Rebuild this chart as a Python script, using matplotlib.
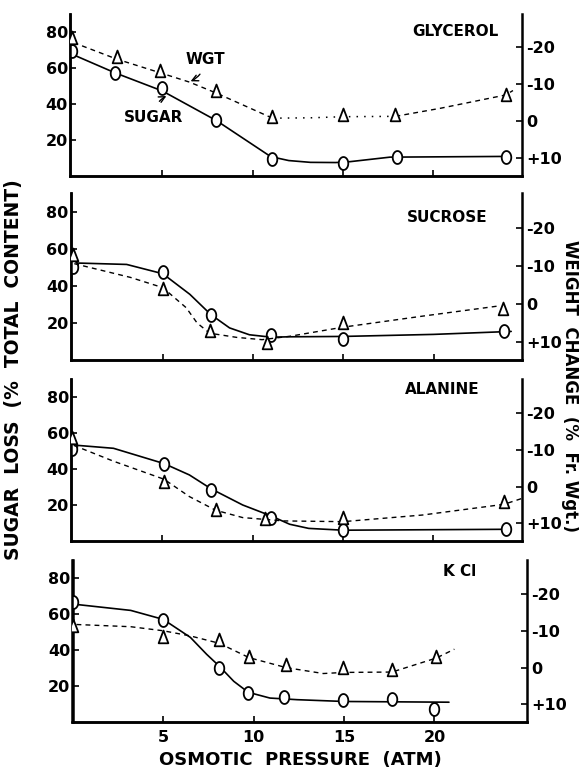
import matplotlib
matplotlib.use("Agg")
import matplotlib.pyplot as plt
from matplotlib.path import Path
import numpy as np

plt.rcParams['font.family'] = ['DejaVu Sans']
plt.rcParams['font.weight'] = 'bold'

W, H, DPI = 579, 771, 100

# ---------------- data ----------------
titles = ["GLYCEROL", "SUCROSE", "ALANINE", "K Cl"]

# GLYCEROL
gly_sugar_x = [0, 2.4, 5.0, 8.0, 11.1, 15.0, 18.0, 24.0]
gly_sugar_y = [69.3, 56.8, 48.4, 30.8, 9.2, 6.8, 10.4, 10.4]
gly_wgt_x = [0, 2.5, 4.9, 8.0, 11.1, 15.0, 17.9, 24.0]
gly_wgt_y = [-22.5, -17.5, -13.7, -8.3, -1.2, -1.7, -1.7, -7.1]
gly_sugar_cx = [0.1, 2.4, 5.0, 8.0, 11.0, 12.0, 13.2, 14.6, 15.4, 17.6, 24.0]
gly_sugar_cy = [67.0, 57.0, 47.0, 30.5, 10.5, 8.3, 7.3, 7.2, 7.7, 10.2, 10.6]
gly_wgt_cx = [0.1, 2.5, 4.9, 6.5, 8.0, 11.1, 13.2, 15.0, 17.9, 20.4, 24.0, 24.4]
gly_wgt_cy = [-21.3, -16.8, -13.1, -10.6, -7.6, -0.8, -0.9, -1.2, -1.3, -3.5, -7.1, -8.3]

# SUCROSE
suc_sugar_x = [0, 5.0, 7.66, 11.0, 15.0, 23.9]
suc_sugar_y = [50.0, 47.2, 24.5, 13.3, 11.4, 15.4]
suc_wgt_x = [0, 5.0, 7.6, 10.8, 15.0, 23.85]
suc_wgt_y = [-12.8, -3.9, 7.2, 10.3, 5.0, 1.2]
suc_sugar_cx = [0.1, 3.0, 5.0, 6.5, 7.66, 8.7, 9.8, 11.0, 12.0, 15.0, 20.0, 24.3]
suc_sugar_cy = [52.3, 51.5, 46.5, 35.4, 24.5, 17.3, 13.6, 12.3, 12.5, 12.7, 13.8, 15.4]
suc_wgt_cx = [0.1, 3.2, 5.0, 6.3, 6.9, 7.6, 9.1, 10.5, 12.05, 15.0, 19.4, 23.5]
suc_wgt_cy = [-10.6, -7.0, -4.3, 1.0, 5.0, 7.7, 8.8, 9.4, 8.5, 6.1, 3.2, 0.6]

# ALANINE
ala_sugar_x = [0, 5.1, 7.7, 11.0, 15.0, 24.0]
ala_sugar_y = [51.1, 42.6, 28.3, 13.0, 6.1, 6.5]
ala_wgt_x = [0, 5.1, 7.95, 10.7, 15.0, 23.9]
ala_wgt_y = [-13.1, -1.2, 6.4, 8.8, 8.6, 4.3]
ala_sugar_cx = [0.1, 2.3, 5.1, 6.5, 7.7, 9.45, 11.0, 12.05, 13.1, 15.0, 24.0]
ala_sugar_cy = [53.3, 51.5, 43.0, 36.7, 29.0, 20.0, 14.0, 9.3, 7.0, 6.0, 6.5]
ala_wgt_cx = [0.1, 2.3, 5.1, 6.5, 7.95, 9.45, 11.7, 15.0, 19.4, 23.9, 24.9]
ala_wgt_cy = [-11.2, -6.9, -2.0, 2.7, 6.4, 8.4, 9.3, 9.5, 7.7, 4.8, 3.2]

# KCl
kcl_sugar_x = [0, 5.0, 8.1, 9.7, 11.7, 14.95, 17.65, 20.0]
kcl_sugar_y = [66.7, 56.4, 30.2, 16.1, 13.9, 12.4, 12.9, 7.3]
kcl_wgt_x = [0, 5.0, 8.1, 9.75, 11.8, 14.95, 17.65, 20.1]
kcl_wgt_y = [-11.4, -8.4, -7.5, -2.9, -0.7, 0.0, 0.7, -2.9]
kcl_sugar_cx = [0.2, 3.2, 5.0, 6.5, 7.4, 8.1, 8.9, 9.7, 10.9, 12.4, 15.0, 20.8]
kcl_sugar_cy = [65.3, 62.0, 57.0, 47.0, 37.6, 31.0, 22.6, 16.5, 13.3, 12.4, 11.4, 11.0]
kcl_wgt_cx = [0.2, 3.2, 5.0, 6.5, 8.1, 9.75, 11.8, 13.85, 15.0, 17.65, 20.1, 21.1]
kcl_wgt_cy = [-11.7, -11.1, -10.0, -8.6, -6.6, -2.7, 0.0, 1.6, 1.3, 1.2, -2.6, -5.0]

left_ticks = [20, 40, 60, 80]
right_ticks = [-20, -10, 0, 10]
right_tick_labels = ["-20", "-10", "0", "+10"]
x_ticks = [5, 10, 15, 20]
x_tick_labels = ["5", "10", "15", "20"]

panels = [
    (gly_sugar_x, gly_sugar_y, gly_wgt_x, gly_wgt_y, gly_sugar_cx, gly_sugar_cy, gly_wgt_cx, gly_wgt_cy),
    (suc_sugar_x, suc_sugar_y, suc_wgt_x, suc_wgt_y, suc_sugar_cx, suc_sugar_cy, suc_wgt_cx, suc_wgt_cy),
    (ala_sugar_x, ala_sugar_y, ala_wgt_x, ala_wgt_y, ala_sugar_cx, ala_sugar_cy, ala_wgt_cx, ala_wgt_cy),
    (kcl_sugar_x, kcl_sugar_y, kcl_wgt_x, kcl_wgt_y, kcl_sugar_cx, kcl_sugar_cy, kcl_wgt_cx, kcl_wgt_cy),
]

# ---------------- layout (pixels) ----------------
# (left px, right px, bottom px, top px, xmin, xmax)
layout = [
    (70.0, 522.0, 175.5, 13.5, -0.1, 24.9),
    (70.7, 522.0, 360.0, 193.0, -0.1, 24.9),
    (71.0, 522.0, 541.0, 379.0, -0.05, 24.9),
    (72.5, 526.7, 722.0, 560.0, -0.02, 25.1),
]
title_pos = [(455, 32), (447, 218), (442, 390), (460, 572)]
DASH = (0, (3.5, 3))
DOT = (0, (1, 4))

# custom markers: tall ellipse and tall triangle
t = np.linspace(0, 2 * np.pi, 60)
ell = Path(np.column_stack([0.74 * np.cos(t), np.sin(t)]), closed=True)
tri = Path([(0, 0.6), (-0.42, -0.5), (0.42, -0.5), (0, 0.6)], closed=True)

fig = plt.figure(figsize=(W / DPI, H / DPI), dpi=DPI)

for i, (sx, sy, wx, wy, scx, scy, wcx, wcy) in enumerate(panels):
    lpx, rpx, bpx, tpx, x0, x1 = layout[i]
    ax = fig.add_axes([lpx / W, 1 - bpx / H, (rpx - lpx) / W, (bpx - tpx) / H])
    ax.set_xlim(x0, x1)
    ax.set_ylim(0, 90)
    ax2 = ax.twinx()
    ax2.set_ylim(14.75, -29.2)

    for a in (ax, ax2):
        a.spines['top'].set_visible(False)
        for s in a.spines.values():
            s.set_linewidth(1.8)
    ax.spines['right'].set_visible(False)

    ax.plot(scx, scy, color='k', lw=1.2, solid_capstyle='round')
    ax.plot(sx, sy, ls='none', marker=ell, ms=9.3, mfc='white', mec='k', mew=1.3, zorder=5)
    if i == 0:
        # glycerol weight curve: dashed, dotted across the plateau, dashed again
        ax2.plot(wcx[:6], wcy[:6], color='k', lw=1.0, ls=DASH)
        ax2.plot(wcx[5:9], wcy[5:9], color='k', lw=1.1, ls=DOT)
        ax2.plot(wcx[8:], wcy[8:], color='k', lw=1.0, ls=DASH)
    else:
        ax2.plot(wcx, wcy, color='k', lw=1.0, ls=DASH)
    ax2.plot(wx, wy, ls='none', marker=tri, ms=10, mfc='white', mec='k', mew=1.3, zorder=5)

    ax.set_yticks(left_ticks)
    ax.set_yticklabels([str(v) for v in left_ticks])
    ax.tick_params(axis='y', direction='in', length=4, width=1.2, pad=1.5, labelsize=11.5)
    ax2.set_yticks(right_ticks)
    ax2.set_yticklabels(right_tick_labels)
    ax2.tick_params(axis='y', direction='in', length=4, width=1.2, pad=3, labelsize=11.5)
    ax.set_xticks(x_ticks)
    if i == 3:
        ax.set_xticklabels(x_tick_labels)
        ax.tick_params(axis='x', direction='in', length=4, width=1.2, pad=6, labelsize=11.5)
    else:
        ax.set_xticklabels([])
        ax.tick_params(axis='x', direction='in', length=4, width=1.2)

    fig.text(title_pos[i][0] / W, 1 - title_pos[i][1] / H, titles[i],
             ha='center', va='center', fontsize=11, fontweight='bold')

    if i == 0:
        ax.annotate("WGT", xy=(6.5, 52), xytext=(7.4, 64.6), ha='center', va='center',
                    fontsize=11, fontweight='bold',
                    arrowprops=dict(arrowstyle='->', lw=1.0, color='k',
                                    connectionstyle='arc3,rad=-0.3', shrinkA=4, shrinkB=1))
        ax.annotate("SUGAR", xy=(5.3, 44.5), xytext=(4.5, 32.3), ha='center', va='center',
                    fontsize=11, fontweight='bold',
                    arrowprops=dict(arrowstyle='->', lw=1.0, color='k',
                                    connectionstyle='arc3,rad=-0.3', shrinkA=5, shrinkB=1))

fig.text(14 / W, 1 - 370 / H, "SUGAR  LOSS  (%  TOTAL  CONTENT)", rotation=90,
         ha='center', va='center', fontsize=13.5, fontweight='bold')
fig.text(570 / W, 1 - 386 / H, "WEIGHT  CHANGE  (%  Fr. Wgt.)", rotation=-90,
         ha='center', va='center', fontsize=12, fontweight='bold')
fig.text(300 / W, 1 - 760 / H, "OSMOTIC  PRESSURE  (ATM)",
         ha='center', va='center', fontsize=13, fontweight='bold')

fig.savefig("out.png", dpi=DPI, facecolor='white')
